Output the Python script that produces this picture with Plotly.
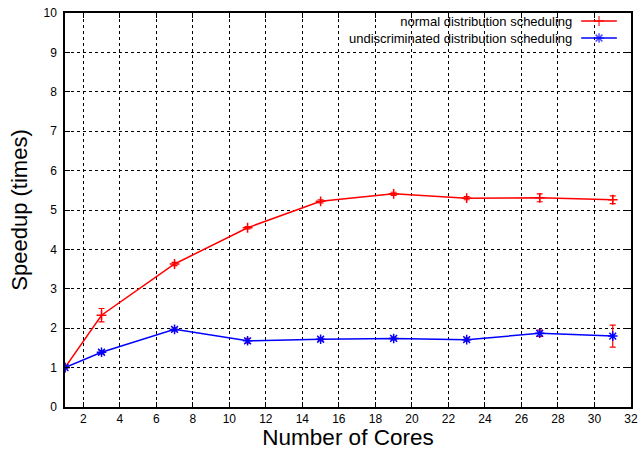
import plotly.graph_objects as go

# Speedup measurements per core count
cores = [1, 3, 7, 11, 15, 19, 23, 27, 31]
normal_speedup = [1.00, 2.33, 3.63, 4.55, 5.22, 5.41, 5.30, 5.31, 5.26]
normal_err = [0.02, 0.17, 0.04, 0.03, 0.04, 0.04, 0.04, 0.10, 0.10]
undisc_speedup = [1.00, 1.39, 1.97, 1.68, 1.72, 1.74, 1.71, 1.87, 1.80]
undisc_err = [0.02, 0.04, 0.04, 0.06, 0.03, 0.03, 0.04, 0.08, 0.28]

series_names = ["normal distribution scheduling",
                "undiscriminated distribution scheduling"]
x_ticks = list(range(2, 33, 2))
y_ticks = list(range(0, 11))

FONT = "Liberation Sans, Arial, Helvetica, sans-serif"
RED = "#ff0000"
BLUE = "#0000ff"

fig = go.Figure()

fig.add_trace(go.Scatter(
    x=cores, y=normal_speedup, mode="lines+markers", name=series_names[0],
    line=dict(color=RED, width=1.5),
    marker=dict(symbol="cross-thin-open", size=7, color=RED,
                line=dict(color=RED, width=1.5)),
    error_y=dict(type="data", array=normal_err, color=RED, thickness=1.2, width=3),
    showlegend=False,
))
fig.add_trace(go.Scatter(
    x=cores, y=undisc_speedup, mode="lines+markers", name=series_names[1],
    line=dict(color=BLUE, width=1.5),
    marker=dict(symbol="asterisk-open", size=8, color=BLUE,
                line=dict(color=BLUE, width=1.5)),
    error_y=dict(type="data", array=undisc_err, color=RED, thickness=1.2, width=3),
    showlegend=False,
))

# Key in the top-right corner: right-aligned labels, line samples after them
fig.add_annotation(xref="paper", yref="paper", x=0.899, y=0.9569,
                   text="<br>".join(series_names), align="right",
                   showarrow=False, xanchor="right", yanchor="middle",
                   font=dict(family=FONT, size=13, color="black"))
key_rows = [(0.9797, RED, "cross-thin-open", 7), (0.9365, BLUE, "asterisk-open", 8)]
for ky, col, sym, sz in key_rows:
    fig.add_trace(go.Scatter(
        x=[0.912, 0.9435, 0.975], y=[ky, ky, ky], xaxis="x2", yaxis="y2",
        mode="lines+markers", line=dict(color=col, width=1.5),
        marker=dict(symbol=sym, size=[0, sz, 0], color=col,
                    line=dict(color=col, width=1.5)),
        showlegend=False, hoverinfo="skip",
    ))

axis_common = dict(
    showline=True, linecolor="black", linewidth=1.5, mirror="ticks",
    ticks="inside", ticklen=5, tickcolor="black", tickwidth=1,
    showgrid=True, gridcolor="black", griddash="dot", gridwidth=1,
    zeroline=False, automargin=False,
    tickfont=dict(family=FONT, size=12, color="black"),
)

fig.update_layout(
    width=639, height=450,
    margin=dict(l=65, r=8, t=13, b=43),
    paper_bgcolor="white", plot_bgcolor="white",
    font=dict(family=FONT, color="black"),
    xaxis=dict(range=[1, 32], tickvals=x_ticks, ticktext=[str(v) for v in x_ticks],
               ticklabelstandoff=0,
               title=dict(text="Number of Cores", font=dict(family=FONT, size=22.5),
                          standoff=0),
               **axis_common),
    yaxis=dict(range=[0, 10], tickvals=y_ticks, ticktext=[str(v) for v in y_ticks],
               ticklabelstandoff=4,
               title=dict(text="Speedup (times)", font=dict(family=FONT, size=22),
                          standoff=10),
               **axis_common),
    xaxis2=dict(range=[0, 1], overlaying="x", visible=False, fixedrange=True),
    yaxis2=dict(range=[0, 1], overlaying="y", visible=False, fixedrange=True),
)

fig.write_html("out.html")
